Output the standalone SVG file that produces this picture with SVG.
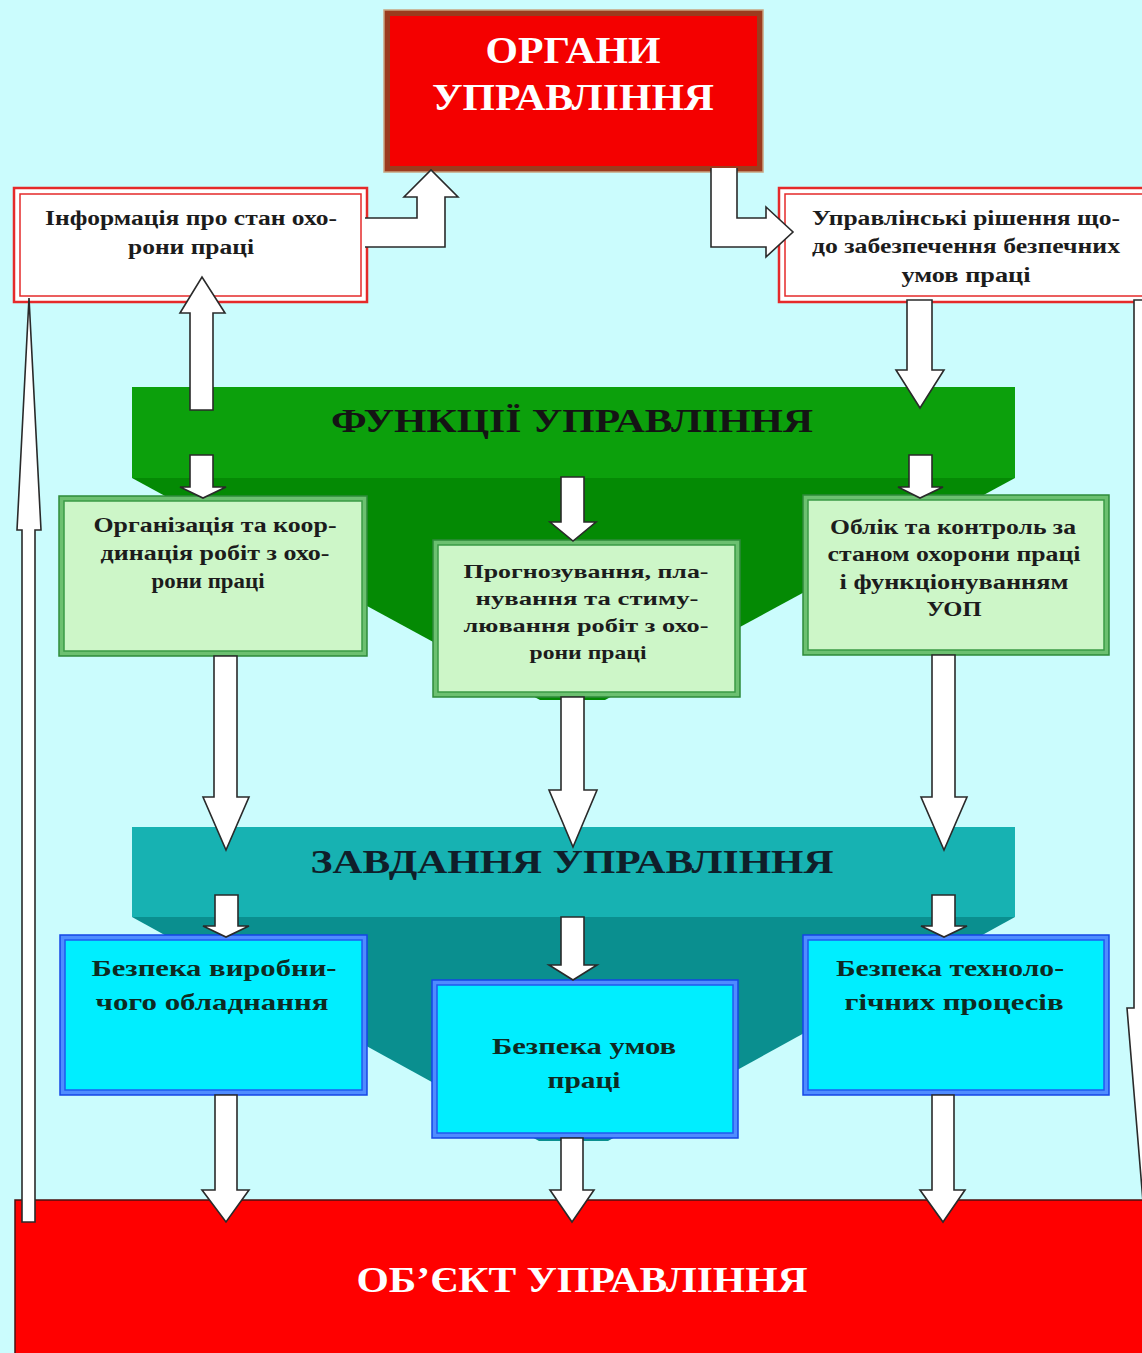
<svg xmlns="http://www.w3.org/2000/svg" width="1142" height="1353" viewBox="0 0 1142 1353">
<style>
.t{font-family:"Liberation Serif","DejaVu Serif",serif;font-weight:bold;text-anchor:middle}
.dk{fill:#1c1c1c}
.wt{fill:#ffffff}
.arr{fill:#ffffff;stroke:#2a2a2a;stroke-width:1.6;stroke-linejoin:miter}
.fillonly{fill:#ffffff;stroke:none}
.lineonly{fill:none;stroke:#2a2a2a;stroke-width:1.6}
.gOut{fill:#6cc070;stroke:#2e8b3a;stroke-width:1.5}
.gIn{fill:#cdf6c8;stroke:#3a9a45;stroke-width:1.5}
.bOut{fill:#4f8cff;stroke:#1446e6;stroke-width:1.5}
.bIn{fill:#00eeff;stroke:#1f5af0;stroke-width:1.5}
.rOut{fill:#ffffff;stroke:#e52a2a;stroke-width:2.5}
.rIn{fill:none;stroke:#e52a2a;stroke-width:1.5}
</style>
<rect x="0" y="0" width="1142" height="1353" fill="#cbfcfd"/>

<g id="banner-functions">
<rect x="132" y="387" width="883" height="91" fill="#0ca00c"/>
<polygon points="132,478 1015,478 605,700 540,700" fill="#048a04"/>
<text class="t" x="572" y="432" font-size="33" fill="#141414" textLength="482" lengthAdjust="spacingAndGlyphs">ФУНКЦІЇ УПРАВЛІННЯ</text>
</g>

<g id="banner-tasks">
<rect x="132" y="827" width="883" height="90" fill="#17b2b2"/>
<polygon points="132,917 1015,917 608,1141 539,1141" fill="#0a8f8f"/>
<text class="t" x="572" y="873" font-size="34" fill="#0f1f2a" textLength="523" lengthAdjust="spacingAndGlyphs">ЗАВДАННЯ УПРАВЛІННЯ</text>
</g>

<g id="organs">
<rect x="384" y="10" width="379" height="162" fill="#9b3b1e" stroke="#c9a27f" stroke-width="1.5"/>
<rect x="390" y="16" width="367" height="150" fill="#f40000"/>
<text class="t wt" x="573" y="63" font-size="37" textLength="175" lengthAdjust="spacingAndGlyphs">ОРГАНИ</text>
<text class="t wt" x="573" y="110" font-size="37" textLength="282" lengthAdjust="spacingAndGlyphs">УПРАВЛІННЯ</text>
</g>

<g id="info">
<rect class="rOut" x="14" y="188" width="353" height="114"/>
<rect class="rIn" x="20" y="194" width="341" height="102"/>
<text class="t dk" x="191" y="225" font-size="20" textLength="292" lengthAdjust="spacingAndGlyphs">Інформація про стан охо-</text>
<text class="t dk" x="191" y="254" font-size="20" textLength="126" lengthAdjust="spacingAndGlyphs">рони праці</text>
</g>

<g id="decisions">
<rect class="rOut" x="779" y="188" width="380" height="114"/>
<rect class="rIn" x="785" y="194" width="368" height="102"/>
<text class="t dk" x="966" y="225" font-size="20" textLength="308" lengthAdjust="spacingAndGlyphs">Управлінські рішення що-</text>
<text class="t dk" x="966" y="253" font-size="20" textLength="308" lengthAdjust="spacingAndGlyphs">до забезпечення безпечних</text>
<text class="t dk" x="966" y="282" font-size="20" textLength="129" lengthAdjust="spacingAndGlyphs">умов праці</text>
</g>

<g id="organization">
<rect class="gOut" x="59" y="496" width="308" height="160"/>
<rect class="gIn" x="64" y="501" width="298" height="150"/>
<text class="t dk" x="215" y="532" font-size="20" textLength="243" lengthAdjust="spacingAndGlyphs">Організація та коор-</text>
<text class="t dk" x="215" y="560" font-size="20" textLength="229" lengthAdjust="spacingAndGlyphs">динація робіт з охо-</text>
<text class="t dk" x="208" y="588" font-size="20" textLength="113" lengthAdjust="spacingAndGlyphs">рони праці</text>
</g>

<g id="forecasting">
<rect class="gOut" x="433" y="540" width="307" height="157"/>
<rect class="gIn" x="438" y="545" width="297" height="147"/>
<text class="t dk" x="586" y="578" font-size="19" textLength="245" lengthAdjust="spacingAndGlyphs">Прогнозування, пла-</text>
<text class="t dk" x="587" y="605" font-size="19" textLength="223" lengthAdjust="spacingAndGlyphs">нування та стиму-</text>
<text class="t dk" x="586" y="632" font-size="19" textLength="245" lengthAdjust="spacingAndGlyphs">лювання робіт з охо-</text>
<text class="t dk" x="588" y="659" font-size="19" textLength="117" lengthAdjust="spacingAndGlyphs">рони праці</text>
</g>

<g id="accounting">
<rect class="gOut" x="803" y="495" width="306" height="160"/>
<rect class="gIn" x="808" y="500" width="296" height="150"/>
<text class="t dk" x="953" y="534" font-size="20" textLength="246" lengthAdjust="spacingAndGlyphs">Облік та контроль за</text>
<text class="t dk" x="954" y="561" font-size="20" textLength="253" lengthAdjust="spacingAndGlyphs">станом охорони праці</text>
<text class="t dk" x="954" y="589" font-size="20" textLength="229" lengthAdjust="spacingAndGlyphs">і функціонуванням</text>
<text class="t dk" x="954" y="616" font-size="20" textLength="55" lengthAdjust="spacingAndGlyphs">УОП</text>
</g>

<g id="equipment">
<rect class="bOut" x="60" y="935" width="307" height="160"/>
<rect class="bIn" x="65" y="940" width="297" height="150"/>
<text class="t" fill="#0e2a22" x="214" y="976" font-size="24" textLength="245" lengthAdjust="spacingAndGlyphs">Безпека виробни-</text>
<text class="t" fill="#0e2a22" x="212" y="1010" font-size="24" textLength="233" lengthAdjust="spacingAndGlyphs">чого обладнання</text>
</g>

<g id="conditions">
<rect class="bOut" x="432" y="980" width="306" height="158"/>
<rect class="bIn" x="437" y="985" width="296" height="148"/>
<text class="t" fill="#0e2a22" x="584" y="1054" font-size="24" textLength="184" lengthAdjust="spacingAndGlyphs">Безпека умов</text>
<text class="t" fill="#0e2a22" x="584" y="1088" font-size="24" textLength="73" lengthAdjust="spacingAndGlyphs">праці</text>
</g>

<g id="processes">
<rect class="bOut" x="803" y="935" width="306" height="160"/>
<rect class="bIn" x="808" y="940" width="296" height="150"/>
<text class="t" fill="#0e2a22" x="950" y="976" font-size="24" textLength="228" lengthAdjust="spacingAndGlyphs">Безпека техноло-</text>
<text class="t" fill="#0e2a22" x="954" y="1010" font-size="24" textLength="219" lengthAdjust="spacingAndGlyphs">гічних процесів</text>
</g>

<g id="object">
<rect x="15" y="1200" width="1140" height="170" fill="#ff0000" stroke="#4a1010" stroke-width="1.5"/>
<text class="t wt" x="582" y="1292" font-size="36" textLength="451" lengthAdjust="spacingAndGlyphs">ОБ’ЄКТ УПРАВЛІННЯ</text>
</g>

<g id="connectors">
<polygon class="fillonly" points="365,218 417,218 417,197 404,197 431,170 458,197 445,197 445,247 365,247"/>
<polyline class="lineonly" points="365,218 417,218 417,197 404,197 431,170 458,197 445,197 445,247 365,247"/>
<polygon class="fillonly" points="711,168 711,247 766,247 766,257 793,232 766,207 766,218 737,218 737,168"/>
<polyline class="lineonly" points="737,168 737,218 766,218 766,207 793,232 766,257 766,247 711,247 711,168"/>
<polygon class="arr" points="190,410 213,410 213,313 225,313 202,277 180,313 190,313"/>
<polygon class="arr" points="190,455 213,455 213,487 226,487 203,498 180,487 190,487"/>
<polygon class="arr" points="907,300 932,300 932,370 944,370 920,408 896,370 907,370"/>
<polygon class="arr" points="909,455 932,455 932,487 943,487 920,498 898,487 909,487"/>
<polygon class="arr" points="561,477 584,477 584,522 596,522 573,541 550,522 561,522"/>
<polygon class="arr" points="214,656 237,656 237,797 249,797 226,850 203,797 214,797"/>
<polygon class="arr" points="561,697 584,697 584,790 597,790 573,847 549,790 561,790"/>
<polygon class="arr" points="932,655 955,655 955,797 967,797 944,850 921,797 932,797"/>
<polygon class="arr" points="215,895 238,895 238,926 249,926 226,937 203,926 215,926"/>
<polygon class="arr" points="561,917 584,917 584,965 597,965 573,980 549,965 561,965"/>
<polygon class="arr" points="932,895 955,895 955,926 967,926 944,937 921,926 932,926"/>
<polygon class="arr" points="215,1095 237,1095 237,1190 249,1190 226,1222 202,1190 215,1190"/>
<polygon class="arr" points="561,1138 583,1138 583,1190 594,1190 572,1222 550,1190 561,1190"/>
<polygon class="arr" points="932,1095 954,1095 954,1190 965,1190 943,1222 920,1190 932,1190"/>
<polygon class="arr" points="22,1222 35,1222 35,530 41,530 29,298 17,530 22,530"/>
<polygon class="arr" points="1134,300 1134,1008 1127,1008 1148,1262 1170,1008 1163,1008 1163,300"/>
</g>
</svg>
